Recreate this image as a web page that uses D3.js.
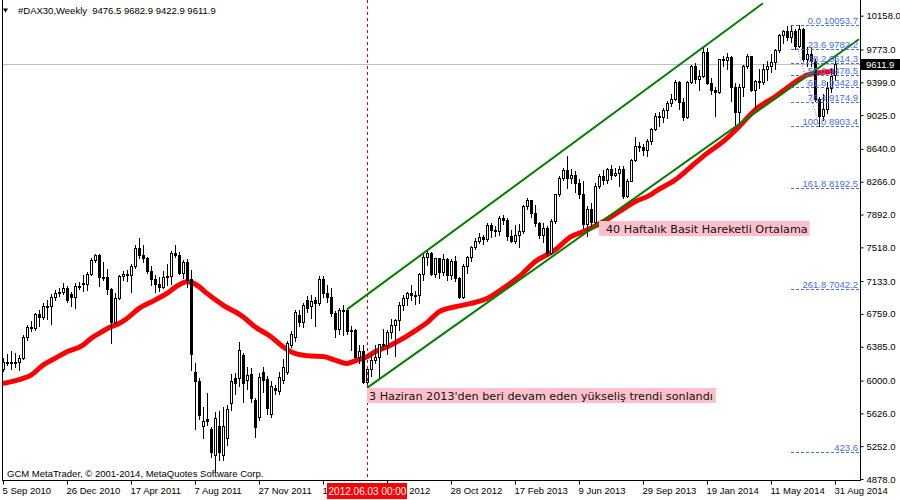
<!DOCTYPE html>
<html><head><meta charset="utf-8">
<script src="https://cdn.jsdelivr.net/npm/d3@7"></script>
<style>
body{margin:0;background:#fff;}
svg{display:block;}
</style>
</head><body>
<svg id="c" width="900" height="500" font-family="Liberation Sans, Arial, sans-serif"></svg>
<script>
// ---------------- DATA ----------------
const symbolTitle = "#DAX30,Weekly  9476.5 9682.9 9422.9 9611.9";
const copyright = "GCM MetaTrader, \u00A9 2001-2014, MetaQuotes Software Corp.";

// weekly candles, week 0 = 5 Sep 2010 ... week 208 = 31 Aug 2014
const openP = [
6130,6215,6209,6208,6211,6255,6493,6605,6601,6754,
6719,6850,6848,6947,7000,7011,7057,6990,6950,7076,
7110,7100,7217,7371,7426,7185,7178,7044,6664,6946,
7196,7217,7200,7300,7514,7430,7400,7250,7160,7100,
7070,7180,7190,7450,7430,7230,7350,7160,6100,5997,
5480,5560,5450,5150,5480,5150,5340,5740,6030,6030,
6290,6005,6080,5780,5590,6100,6020,5620,5910,5880,
6005,6100,6404,6500,6746,6670,6917,6849,6921,6880,
7157,6995,6947,6775,6583,6801,6801,6561,6579,6271,
6339,5978,6130,6229,6263,6416,6410,6558,6630,6689,
6865,6945,6998,6972,6970,7214,7412,7451,7216,7398,
7233,7380,7203,7363,7163,6950,7309,7405,7518,7596,
7636,7612,7776,7715,7702,7857,7833,7652,7593,7661,
7708,7986,8058,7913,7795,7658,7744,7459,7815,8122,
8304,8399,8305,8348,8254,8127,7789,7959,7806,8212,
8331,8291,8410,8338,8370,8416,8103,8276,8509,8675,
8661,8623,8725,8870,9010,9009,9078,9168,9212,9405,
9172,9006,9400,9589,9435,9473,9742,9392,9306,9290,
9662,9657,9692,9350,9056,9342,9587,9695,9315,9409,
9401,9556,9581,9630,9768,9943,9987,9912,9987,9815,
10009,9666,9720,9644,9210,9010,9092,9339,9476.5];
const highP = [
6260,6300,6340,6310,6290,6520,6630,6680,6770,6800,
6880,6920,6990,7030,7050,7110,7080,7010,7110,7120,
7200,7240,7400,7440,7440,7350,7270,7060,7000,7200,
7250,7260,7330,7545,7620,7545,7410,7300,7200,7180,
7250,7330,7480,7545,7460,7370,7390,7260,6200,6030,
5700,5860,5470,5640,5650,5700,5720,6080,6090,6440,
6310,6150,6140,5800,6090,6160,6050,5990,5950,6100,
6250,6450,6560,6800,6800,6880,6960,6975,6950,7190,
7195,7090,7050,6790,6830,6860,6830,6620,6590,6400,
6400,6160,6300,6400,6420,6590,6580,6700,6700,6890,
6980,7010,7090,7020,7220,7440,7480,7470,7400,7400,
7440,7400,7380,7420,7180,7330,7420,7530,7620,7680,
7660,7790,7790,7760,7880,7890,7850,7720,7770,7780,
8000,8080,8060,8000,7810,7800,7760,7840,8130,8330,
8420,8557,8410,8390,8300,8270,7990,8020,8250,8350,
8400,8420,8460,8420,8440,8440,8300,8520,8770,8720,
8700,8750,8880,9050,9060,9110,9190,9270,9420,9410,
9220,9410,9600,9620,9540,9800,9790,9450,9350,9670,
9700,9730,9700,9390,9380,9600,9720,9700,9430,9550,
9610,9640,9720,9780,9950,10000,10040,10054,10010,10050,
10020,9800,9800,9660,9230,9260,9400,9560,9682.9];
const lowP = [
6110,6180,6130,6160,6120,6240,6460,6560,6580,6620,
6700,6700,6640,6920,6960,6990,6900,6850,6830,7040,
7020,7030,7200,7350,7080,7150,6990,6430,6640,6930,
7150,7140,7010,7280,7400,7350,7230,7090,7010,7020,
7050,7090,7100,7410,7210,7170,7070,6120,5450,5560,
5350,5490,5130,4965,5100,5090,5260,5660,5850,5940,
5760,5900,5760,5360,5550,5870,5620,5590,5850,5850,
5975,6080,6380,6450,6620,6610,6780,6710,6620,6860,
6950,6900,6740,6500,6530,6520,6530,6350,6260,6200,
5970,5914,6050,6200,6040,6370,6300,6480,6280,6580,
6800,6860,6920,6870,6880,7150,7320,7200,7180,7170,
7200,7150,7160,7130,6940,6940,7230,7360,7500,7570,
7560,7590,7640,7650,7660,7780,7600,7580,7570,7520,
7680,7950,7860,7760,7620,7580,7420,7440,7800,8100,
8290,8200,8250,8150,8080,7740,7650,7760,7800,8190,
8240,8250,8300,8330,8220,8080,8090,8270,8500,8620,
8570,8560,8700,8850,8900,8950,8990,9130,9200,9100,
8970,8990,9390,9390,9310,9460,9380,9270,9020,9280,
9580,9550,9190,8900,8950,9240,9560,9300,9110,9330,
9380,9420,9520,9550,9740,9850,9880,9860,9780,9800,
9640,9590,9580,9190,8903,8970,9050,9290,9422.9];
const closeP = [
6215,6209,6208,6211,6255,6493,6605,6601,6754,6719,
6850,6848,6947,7000,7011,7057,6914,6950,7076,7063,
7100,7217,7371,7426,7185,7178,7044,6664,6946,7196,
7217,7200,7300,7514,7430,7400,7250,7160,7100,7070,
7180,7190,7450,7430,7230,7350,7150,6300,5997,5602,
5538,5540,5190,5574,5190,5480,5675,5990,5975,6350,
5967,6060,5800,5475,6043,6005,5690,5940,5895,6043,
6149,6430,6530,6780,6670,6860,6822,6910,6880,7157,
6995,6947,6775,6583,6801,6801,6561,6579,6271,6339,
5978,6130,6229,6263,6416,6410,6558,6630,6689,6865,
6945,6998,6972,6970,7214,7412,7451,7216,7398,7233,
7380,7203,7363,7163,6950,7309,7405,7518,7596,7636,
7612,7776,7715,7702,7857,7833,7652,7593,7661,7708,
7986,8058,7913,7795,7658,7744,7459,7815,8122,8304,
8399,8305,8348,8254,8127,7789,7959,7806,8212,8331,
8291,8410,8338,8370,8416,8103,8276,8509,8675,8661,
8623,8725,8870,9010,9009,9078,9168,9212,9405,9172,
9006,9400,9589,9435,9473,9742,9392,9306,9290,9662,
9657,9692,9350,9056,9342,9587,9695,9315,9409,9401,
9556,9581,9630,9768,9943,9987,9912,9987,9815,10009,
9666,9720,9644,9210,9010,9092,9339,9470,9611.9];

// 40-week simple moving average (week index, value)
const maWeek  = [0,5,7,10,13,16,20,22,24,27,29,31,34,38,41,43,46,47,49,51,53,55,60,63,67,70,73,77,80,83,86,88,91,93,97,100,103,106,109,113,117,121,125,129,133,138,142,146,150,154,158,162,163,168,172,176,180,184,188,193,197,201,204,207,208];
const maValue = [5967,6024,6062,6176,6252,6328,6404,6480,6537,6613,6650,6708,6822,6917,6993,7061,7126,7120,7070,6993,6925,6860,6727,6613,6499,6385,6309,6279,6275,6233,6195,6225,6271,6328,6404,6480,6567,6660,6784,6841,6879,6936,7050,7183,7354,7487,7639,7715,7810,7924,8038,8120,8152,8285,8437,8589,8722,8893,9083,9235,9368,9482,9509,9520,9516];

const yTickValues = [10158,9773,9399,9025,8640,8266,7892,7518,7133,6759,6385,6000,5626,5252,4878];
const xTickWeeks  = [0,16,32,48,64,80,96,112,128,144,160,176,192,208];
const xTickLabels = ["5 Sep 2010","26 Dec 2010","17 Apr 2011","7 Aug 2011","27 Nov 2011","18 Mar 2012","8 Jul 2012","28 Oct 2012","17 Feb 2013","9 Jun 2013","29 Sep 2013","19 Jan 2014","11 May 2014","31 Aug 2014"];

// channel trend lines: [startWeek, endWeek], [startPrice, endPrice]
const upperWeeks = [86, 190], upperPrices = [6811, 10300];
const lowerWeeks = [91, 214], lowerPrices = [5917, 9890];

// Fibonacci retracement (high week 197, low week 204)
const fibAnchorWeeks = [197, 204];
const fibAnchorPrices = [10053.7, 8903.4];
const fibLabels = ["0.0 10053.7","23.6 9782.2","38.2 9614.3","50.0 9478.5","61.8 9342.8","76.4 9174.9","100.0 8903.4","161.8 8192.5","261.8 7042.2","423.6"];
const fibPrices = [10053.7,9782.2,9614.3,9478.5,9342.8,9174.9,8903.4,8192.5,7042.2,5181.1];

const vlineWeek = 91, vlineLabel = "2012.06.03 00:00";
const lastPrice = 9611.9;

const noteTexts  = ["3 Haziran 2013'den beri devam eden yükseliş trendi sonlandı", "40 Haftalık Basit Hareketli Ortalama"];
const noteWeeks  = [91, 149];
const notePrices = [5914, 7818];

// ---------------- DRAW ----------------
const svg = d3.select("#c");
const W = 900, H = 500, plotL = 2, plotR = 860, plotB = 480;
const x = d3.scaleLinear().domain([0, 208]).range([3, 835]);
const y = d3.scaleLinear().domain([4878, 10158]).range([479, 15.7]);

svg.append("defs").append("clipPath").attr("id","plot")
  .append("rect").attr("x",plotL).attr("y",0).attr("width",plotR-plotL).attr("height",plotB);

const plot = svg.append("g").attr("clip-path","url(#plot)");

// last price grey line
plot.append("line").attr("x1",plotL).attr("x2",plotR)
  .attr("y1",Math.round(y(lastPrice))+0.5).attr("y2",Math.round(y(lastPrice))+0.5)
  .attr("stroke","#c0c0c0").attr("stroke-width",1);

// moving average
const maPts = maWeek.map((w,k)=>[w, maValue[k]]);
plot.append("path").datum(maPts)
  .attr("d", d3.line().x(d=>x(d[0])).y(d=>y(d[1])).curve(d3.curveMonotoneX))
  .attr("fill","none").attr("stroke","#ff0000").attr("stroke-width",5);

// candles
const candles = d3.range(closeP.length).map(i=>({i, o:openP[i], h:highP[i], l:lowP[i], c:closeP[i]}));
const cg = plot.append("g");
const cs = cg.selectAll("g").data(candles).join("g");
cs.append("line")
  .attr("x1",d=>Math.round(x(d.i))+0.5).attr("x2",d=>Math.round(x(d.i))+0.5)
  .attr("y1",d=>Math.round(y(d.h))).attr("y2",d=>Math.round(y(d.l))+1)
  .attr("stroke","#000").attr("stroke-width",1);
cs.append("rect")
  .attr("x",d=>Math.round(x(d.i))-0.5)
  .attr("y",d=>Math.round(y(Math.max(d.o,d.c)))+0.5)
  .attr("width",2)
  .attr("height",d=>Math.max(1, Math.round(y(Math.min(d.o,d.c))) - Math.round(y(Math.max(d.o,d.c)))))
  .attr("fill",d=>d.c>=d.o ? "#fff" : "#000")
  .attr("stroke","#000").attr("stroke-width",1);

// channel lines
[[upperWeeks,upperPrices],[lowerWeeks,lowerPrices]].forEach(([ws,ps])=>{
  plot.append("line").attr("x1",x(ws[0])).attr("y1",y(ps[0])).attr("x2",x(ws[1])).attr("y2",y(ps[1]))
    .attr("stroke","#008000").attr("stroke-width",2);
});

// fibonacci
const fibColor = "#4a6ee6";
plot.append("line")
  .attr("x1",x(fibAnchorWeeks[0])).attr("y1",y(fibAnchorPrices[0]))
  .attr("x2",x(fibAnchorWeeks[1])).attr("y2",y(fibAnchorPrices[1]))
  .attr("stroke",fibColor).attr("stroke-width",1).attr("stroke-dasharray","1,2");
const fg = plot.append("g");
fibPrices.forEach((p,k)=>{
  const yy = Math.round(y(p))+0.5;
  fg.append("line").attr("x1",x(fibAnchorWeeks[0])).attr("x2",plotR).attr("y1",yy).attr("y2",yy)
    .attr("stroke",fibColor).attr("stroke-width",1).attr("stroke-dasharray","3,2");
  fg.append("text").attr("x",858).attr("y",yy-2).attr("text-anchor","end")
    .attr("font-size","9.5px").attr("fill",fibColor).text(fibLabels[k]);
});

// vertical dashed line
const vx = Math.round(x(vlineWeek))+0.5;
plot.append("line").attr("x1",vx).attr("x2",vx).attr("y1",0).attr("y2",plotB)
  .attr("stroke","#e00000").attr("stroke-width",1).attr("stroke-dasharray","3,3");

// notes with pink background
noteTexts.forEach((t,k)=>{
  const nx = x(noteWeeks[k]), ny = Math.round(y(notePrices[k]));
  const ng = svg.append("g");
  const r = ng.append("rect").attr("x",nx).attr("y",ny).attr("height",15).attr("fill","#ffc0cb");
  const tx = ng.append("text").attr("x",nx+(k===0?2:7)).attr("y",ny+11.5)
    .style("font-family","'DejaVu Sans', sans-serif").style("font-size","11.2px").attr("fill","#111").text(t);
  const w = tx.node().getComputedTextLength();
  r.attr("width", w + (k===0?5:9));
});

// frame
svg.append("line").attr("x1",plotL+0.5).attr("x2",plotL+0.5).attr("y1",0).attr("y2",plotB+1).attr("stroke","#000");
svg.append("line").attr("x1",plotL).attr("x2",plotR+1).attr("y1",plotB+0.5).attr("y2",plotB+0.5).attr("stroke","#000");
svg.append("line").attr("x1",plotR+0.5).attr("x2",plotR+0.5).attr("y1",0).attr("y2",plotB+1).attr("stroke","#000");

// right axis
const ay = svg.append("g").attr("transform",`translate(${plotR+0.5},0)`)
  .call(d3.axisRight(y).tickValues(yTickValues).tickSize(3).tickPadding(3).tickFormat(d=>d.toFixed(1)));
ay.select(".domain").remove();
ay.selectAll("text").attr("font-size","9.5px").attr("font-family","Liberation Sans, Arial, sans-serif").attr("fill","#000");
ay.selectAll("line").attr("stroke","#000");

// bottom axis
const ax = svg.append("g").attr("transform",`translate(0,${plotB+0.5})`)
  .call(d3.axisBottom(x).tickValues(xTickWeeks).tickSize(4).tickPadding(3).tickFormat((d,k)=>xTickLabels[k]));
ax.select(".domain").remove();
ax.selectAll("text").attr("font-size","9.5px").attr("font-family","Liberation Sans, Arial, sans-serif")
  .attr("fill","#000").attr("text-anchor","start").attr("x",-1);
ax.selectAll("line").attr("stroke","#000");

// vertical line label on time axis
const vbox = svg.append("g");
vbox.append("rect").attr("x",vx-40.5).attr("y",483).attr("width",80).attr("height",16).attr("fill","#ff0000");
vbox.append("text").attr("x",vx).attr("y",495).attr("text-anchor","middle").attr("font-size","10px")
  .attr("fill","#fff").text(vlineLabel);

// last price tag
const ly = y(lastPrice);
svg.append("rect").attr("x",plotR+1).attr("y",Math.round(ly)-5).attr("width",W-plotR-1).attr("height",11).attr("fill","#000");
svg.append("text").attr("x",plotR+6).attr("y",Math.round(ly)+4).attr("font-size","9.5px").attr("fill","#fff").text(lastPrice.toFixed(1));

// header
svg.append("path").attr("d","M3,8.5 L8,8.5 L5.5,12.5 Z").attr("fill","#000");
svg.append("text").attr("x",18).attr("y",14).attr("font-size","9.5px").attr("fill","#000")
  .style("white-space","pre").text(symbolTitle);

// copyright
svg.append("text").attr("x",7).attr("y",477).attr("font-size","9.5px").attr("fill","#000").text(copyright);
</script>
</body></html>
